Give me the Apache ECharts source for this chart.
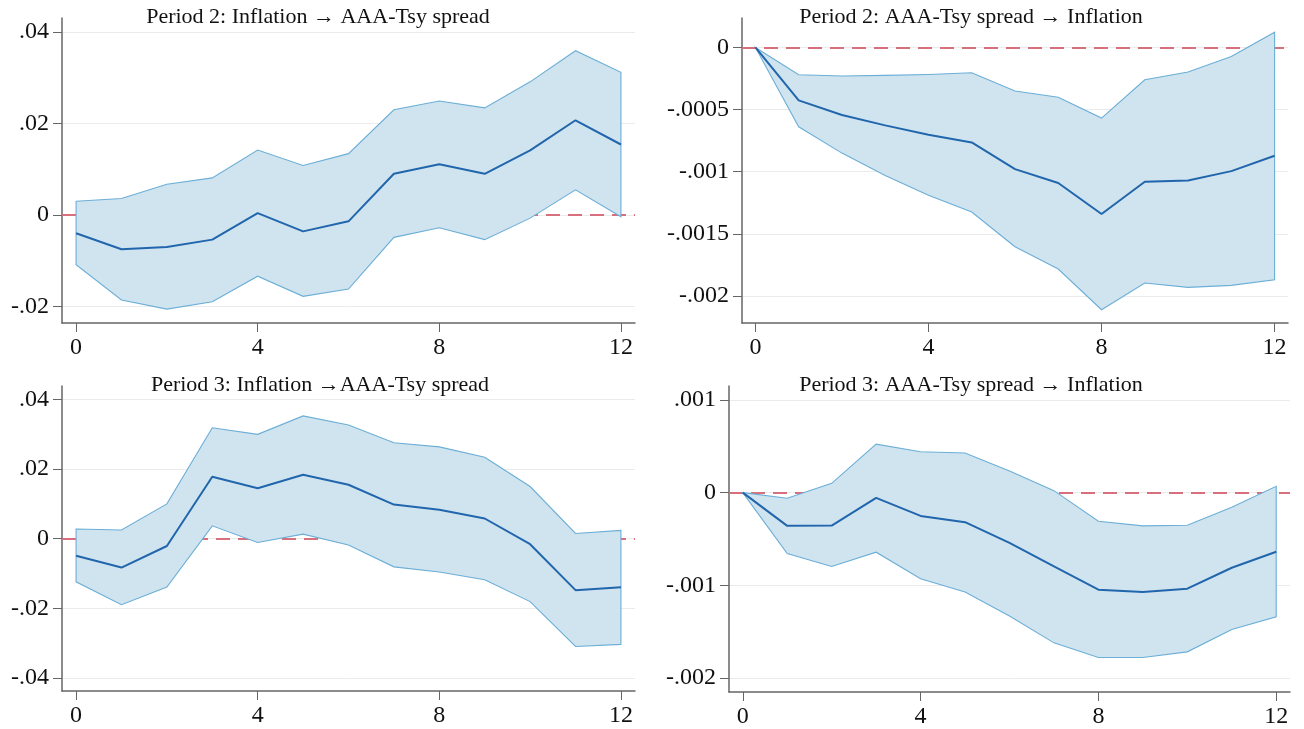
<!DOCTYPE html>
<html>
<head>
<meta charset="utf-8">
<script src="https://cdn.jsdelivr.net/npm/echarts@6/dist/echarts.min.js"></script>
<style>
html,body{margin:0;padding:0;background:#fff;}
#chart{width:1304px;height:729px;}
</style>
</head>
<body>
<div id="chart"></div>
<script>
// ---------- data ----------
const steps = [0,1,2,3,4,5,6,7,8,9,10,11,12];
const xTicks = [0,4,8,12];

const titles = [
  'Period 2: Inflation \u2192 AAA-Tsy spread',
  'Period 2: AAA-Tsy spread \u2192 Inflation',
  'Period 3: Inflation \u2192AAA-Tsy spread',
  'Period 3: AAA-Tsy spread \u2192 Inflation'
];

// Panel 1: Period 2, Inflation -> AAA-Tsy spread
const p1Irf   = [-0.0040,-0.0075,-0.0070,-0.0054,0.0004,-0.0036,-0.0014,0.0090,0.0111,0.0090,0.0141,0.0207,0.0154];
const p1Upper = [0.0030,0.0036,0.0067,0.0081,0.0142,0.0108,0.0134,0.0230,0.0249,0.0234,0.0291,0.0359,0.0312];
const p1Lower = [-0.0109,-0.0186,-0.0206,-0.0190,-0.0134,-0.0178,-0.0162,-0.0049,-0.0028,-0.0054,-0.0007,0.0055,-0.0004];
const p1YTicks = [-0.02,0,0.02,0.04];

// Panel 2: Period 2, AAA-Tsy spread -> Inflation
const p2Irf   = [0,-0.000426,-0.000544,-0.000627,-0.000702,-0.000764,-0.000979,-0.001091,-0.00134,-0.00108,-0.00107,-0.000995,-0.000871];
const p2Upper = [0,-0.00022,-0.00023,-0.000225,-0.000217,-0.000204,-0.000351,-0.0004,-0.000568,-0.00026,-0.000198,-0.000072,0.000123];
const p2Lower = [0,-0.000638,-0.00085,-0.00103,-0.00119,-0.001324,-0.001603,-0.001783,-0.00211,-0.001895,-0.00193,-0.001914,-0.001869];
const p2YTicks = [-0.002,-0.0015,-0.001,-0.0005,0];

// Panel 3: Period 3, Inflation -> AAA-Tsy spread
const p3Irf   = [-0.0049,-0.0083,-0.0021,0.0178,0.0145,0.0184,0.0155,0.0098,0.0083,0.0058,-0.0016,-0.0148,-0.0140];
const p3Upper = [0.0028,0.0025,0.0100,0.0319,0.0300,0.0353,0.0327,0.0276,0.0264,0.0234,0.0150,0.0015,0.0024];
const p3Lower = [-0.0124,-0.0190,-0.0139,0.0037,-0.0011,0.0013,-0.0018,-0.0081,-0.0096,-0.0118,-0.0181,-0.0310,-0.0304];
const p3YTicks = [-0.04,-0.02,0,0.02,0.04];

// Panel 4: Period 3, AAA-Tsy spread -> Inflation
const p4Irf   = [0,-0.000358,-0.000355,-0.000057,-0.000251,-0.000319,-0.000541,-0.000796,-0.001047,-0.001072,-0.001036,-0.00081,-0.000638];
const p4Upper = [0,-0.000061,0.0001,0.000523,0.000441,0.000427,0.000233,0.0000215,-0.000308,-0.000358,-0.000351,-0.000158,0.000068];
const p4Lower = [0,-0.000656,-0.000796,-0.000642,-0.000928,-0.001072,-0.00133,-0.00162,-0.001778,-0.001778,-0.001717,-0.001477,-0.00134];
const p4YTicks = [-0.002,-0.001,0,0.001];

// ---------- layout / style ----------
const panels = [
  {irf:p1Irf, up:p1Upper, lo:p1Lower, ticks:p1YTicks, ymin:-0.02363, ymax:0.04306,
   grid:{left:62, top:18, width:573, height:305}, titleX:318, titleY:6},
  {irf:p2Irf, up:p2Upper, lo:p2Lower, ticks:p2YTicks, ymin:-0.002217, ymax:0.000237,
   grid:{left:742, top:18, width:546, height:305}, titleX:971, titleY:6},
  {irf:p3Irf, up:p3Upper, lo:p3Lower, ticks:p3YTicks, ymin:-0.0438, ymax:0.0439,
   grid:{left:62, top:386, width:573, height:305}, titleX:320, titleY:374},
  {irf:p4Irf, up:p4Upper, lo:p4Lower, ticks:p4YTicks, ymin:-0.00215, ymax:0.00115,
   grid:{left:729, top:386, width:561, height:306}, titleX:971, titleY:374}
];

const FONT = '"Liberation Serif", "Times New Roman", serif';
const fmt = v => {
  if (Math.abs(v) < 1e-12) return '0';
  const s = String(Math.round(v * 1e7) / 1e7);
  return s.replace('0.', '.');
};

const option = {
  backgroundColor: '#ffffff',
  animation: false,
  title: [], grid: [], xAxis: [], yAxis: [], series: []
};

panels.forEach((p, k) => {
  option.title.push({
    text: titles[k], left: p.titleX, top: p.titleY, textAlign: 'center', padding: 0,
    textStyle: {fontFamily: FONT, fontSize: 22, fontWeight: 'normal', color: '#111'}
  });
  option.grid.push(Object.assign({containLabel: false}, p.grid));
  const xmin = -0.31, xmax = 12.31;
  option.xAxis.push({
    type: 'value', gridIndex: k, min: xmin, max: xmax,
    axisLine: {show: true, onZero: false, lineStyle: {color: '#666', width: 1.5}},
    axisTick: {show: true, length: 9, lineStyle: {color: '#666', width: 1}, customValues: xTicks},
    axisLabel: {customValues: xTicks, fontFamily: FONT, fontSize: 24, color: '#111', margin: 13,
      formatter: v => String(v)},
    splitLine: {show: false}
  });
  option.yAxis.push({
    type: 'value', gridIndex: k, min: p.ymin, max: p.ymax,
    axisLine: {show: true, onZero: false, lineStyle: {color: '#666', width: 1.5}},
    axisTick: {show: true, length: 9, lineStyle: {color: '#666', width: 1}, customValues: p.ticks},
    axisLabel: {customValues: p.ticks, fontFamily: FONT, fontSize: 24, color: '#111', margin: 13,
      formatter: fmt},
    splitLine: {show: true, lineStyle: {color: '#ebebeb', width: 1}}
  });
  // zero reference line (beneath the band)
  option.series.push({
    type: 'line', xAxisIndex: k, yAxisIndex: k, z: 1, data: [], silent: true,
    markLine: {
      silent: true, symbol: 'none', z: 1, label: {show: false},
      lineStyle: {color: '#d7707c', type: [14, 8], width: 1.8},
      data: [{yAxis: 0}]
    }
  });
  // confidence band
  option.series.push({
    type: 'custom', xAxisIndex: k, yAxisIndex: k, z: 2, silent: true,
    data: steps.map((x, i) => [x, p.lo[i], p.up[i]]),
    encode: {x: 0, y: [1, 2]},
    renderItem: (params, api) => {
      if (params.dataIndex !== 0) return null;
      const pts = [];
      for (let i = 0; i < steps.length; i++) pts.push(api.coord([steps[i], p.up[i]]));
      for (let i = steps.length - 1; i >= 0; i--) pts.push(api.coord([steps[i], p.lo[i]]));
      return {type: 'polygon', shape: {points: pts},
        style: {fill: '#d0e4f0', stroke: '#6baed6', lineWidth: 1.1}};
    }
  });
  // impulse response
  option.series.push({
    type: 'line', xAxisIndex: k, yAxisIndex: k, z: 3, silent: true,
    data: steps.map((x, i) => [x, p.irf[i]]),
    symbol: 'none', lineStyle: {color: '#2166ac', width: 2}
  });
});

const chart = echarts.init(document.getElementById('chart'), null, {renderer: 'canvas'});
chart.setOption(option);
</script>
</body>
</html>
